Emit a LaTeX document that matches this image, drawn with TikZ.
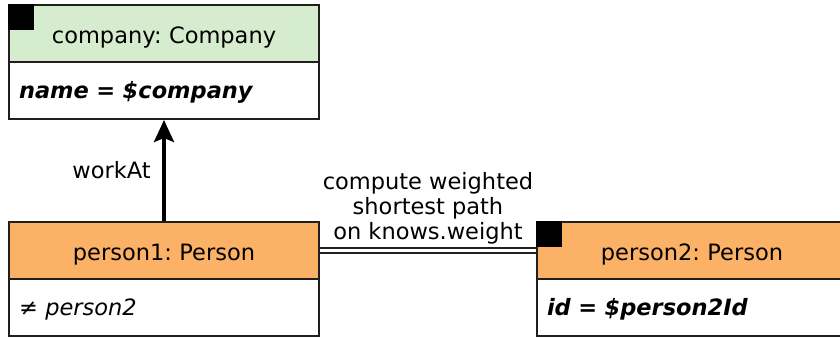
\documentclass[tikz,border=0pt]{standalone}
\usepackage{fontspec}
\setmainfont{DejaVu Sans}
\frenchspacing
\usetikzlibrary{arrows.meta}
\definecolor{uml_green}{RGB}{214, 236, 206}
\definecolor{uml_orange}{RGB}{252, 178, 102}
\definecolor{uml_line}{RGB}{34, 30, 30}
\tikzstyle{head}=[rectangle,draw=uml_line,line width=2pt,minimum width=310pt,
  minimum height=57pt,text width=290pt,align=center,inner sep=0pt,
  text height=24pt,text depth=4pt]
\tikzstyle{gh}=[head,fill=uml_green]
\tikzstyle{oh}=[head,fill=uml_orange]
\tikzstyle{attr}=[rectangle,draw=uml_line,line width=2pt,fill=white,minimum width=310pt,
  minimum height=57pt,text width=290pt,align=left,inner sep=0pt,
  text height=21pt,text depth=5pt]
\tikzstyle{tag}=[rectangle,fill=black,minimum size=26pt,inner sep=0pt,anchor=north west]
\tikzstyle{edge}=[draw=black,line width=4pt,-{Stealth[length=22pt,width=20pt,inset=4pt]}]
\tikzstyle{link}=[draw=uml_line,line width=1.5pt,double,double distance=3.5pt]
\tikzstyle{none}=[]

\begin{document}
\begin{tikzpicture}[x=1pt, y=-1pt, font=\fontsize{22.5}{25}\selectfont]
            \useasboundingbox (0,0) rectangle (840,339);
            \clip (0,0) rectangle (840,339);
            \node [style=gh] (0) at (164, 33.5) {company: Company};
            \node [style=attr] (1) at (164, 90.5) {\textbf{\textit{name = \$company}}};
            \node [style=oh] (2) at (164, 250.5) {person1: Person};
            \node [style=attr] (3) at (164, 307.5) {\textit{≠ person2}};
            \node [style=oh] (4) at (692, 250.5) {person2: Person};
            \node [style=attr] (5) at (692, 307.5) {\textbf{\textit{id = \$person2Id}}};
            \node [style=tag] (6) at (0.north west) {};
            \node [style=tag] (7) at (4.north west) {};
            \draw [style=edge] (2) to node [left=8pt] {workAt} (1);
            \draw [style=link] (2) to node [above=2pt, align=center] {compute weighted\\shortest path\\on knows.weight} (4);
    \end{tikzpicture}
\end{document}
